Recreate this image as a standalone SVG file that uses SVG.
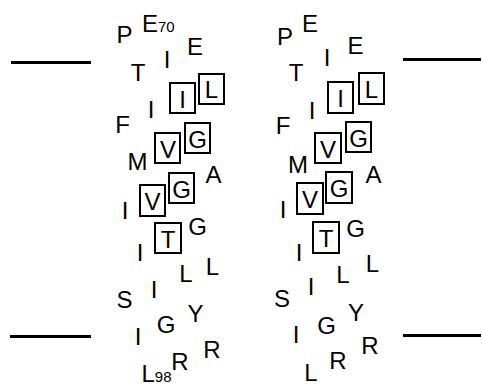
<svg xmlns="http://www.w3.org/2000/svg" width="482" height="388" viewBox="0 0 482 388">
<style>
text{font-family:"Liberation Sans",Arial,sans-serif;font-size:24px;fill:#000;text-anchor:middle}
text.s{text-anchor:start}
tspan.sub{font-size:15px}
rect.b{fill:none;stroke:#000;stroke-width:2}
line{stroke:#000;stroke-width:3}
</style>
<rect width="482" height="388" fill="#fff"/>
<g id="membrane">
<line x1="11" y1="62.5" x2="91" y2="62.5"/>
<line x1="403" y1="59.5" x2="481" y2="59.5"/>
<line x1="10" y1="336.5" x2="91" y2="336.5"/>
<line x1="403" y1="335.5" x2="481" y2="335.5"/>
</g>
<g id="helix-left">
<text x="124.5" y="43">P</text>
<text class="s" x="142" y="32">E<tspan class="sub">70</tspan></text>
<text x="195" y="55">E</text>
<text x="138" y="81">T</text>
<text x="167" y="68">I</text>
<g id="L-boxI1"><rect class="b" x="170" y="83" width="25" height="30"/><text x="182.5" y="107.5">I</text></g>
<g id="L-boxL"><rect class="b" x="199" y="74" width="25" height="30"/><text x="211.5" y="98">L</text></g>
<text x="151" y="118">I</text>
<text x="122.5" y="133">F</text>
<g id="L-boxV1"><rect class="b" x="155" y="133" width="25" height="30"/><text x="168" y="158">V</text></g>
<g id="L-boxG1"><rect class="b" x="185" y="123" width="25" height="30"/><text x="197.5" y="148">G</text></g>
<text x="137.5" y="170">M</text>
<text x="213.5" y="183">A</text>
<g id="L-boxG2"><rect class="b" x="169" y="173" width="25" height="30"/><text x="181.5" y="198">G</text></g>
<g id="L-boxV2"><rect class="b" x="140" y="185" width="25" height="31"/><text x="152.5" y="210">V</text></g>
<text x="125" y="219">I</text>
<g id="L-boxT"><rect class="b" x="155" y="223" width="26" height="30"/><text x="168" y="248">T</text></g>
<text x="197.5" y="235">G</text>
<text x="140" y="261">I</text>
<text x="186" y="282">L</text>
<text x="212.5" y="275">L</text>
<text x="154" y="298">I</text>
<text x="124.5" y="308">S</text>
<text x="195.5" y="322">Y</text>
<text x="166" y="333">G</text>
<text x="138" y="345">I</text>
<text x="212" y="358">R</text>
<text x="180" y="370">R</text>
<text class="s" x="141.5" y="382">L<tspan class="sub">98</tspan></text>
</g>
<g id="helix-right">
<text x="285" y="45">P</text>
<text x="310" y="32">E</text>
<text x="355.5" y="54">E</text>
<text x="327" y="66">I</text>
<text x="296" y="81">T</text>
<g id="R-boxL"><rect class="b" x="359" y="73" width="25" height="31"/><text x="371.5" y="97.5">L</text></g>
<g id="R-boxI1"><rect class="b" x="328" y="82" width="25" height="31"/><text x="340.5" y="107">I</text></g>
<text x="312" y="119">I</text>
<text x="283" y="134">F</text>
<g id="R-boxG1"><rect class="b" x="346" y="122" width="25" height="30"/><text x="358.5" y="147">G</text></g>
<g id="R-boxV1"><rect class="b" x="315" y="133" width="26" height="30"/><text x="328" y="158">V</text></g>
<text x="298" y="173">M</text>
<text x="373.5" y="183">A</text>
<g id="R-boxG2"><rect class="b" x="326" y="172" width="26" height="31"/><text x="339" y="197">G</text></g>
<g id="R-boxV2"><rect class="b" x="297" y="183" width="26" height="31"/><text x="310" y="208">V</text></g>
<text x="283" y="218">I</text>
<g id="R-boxT"><rect class="b" x="313" y="222" width="26" height="31"/><text x="326" y="247">T</text></g>
<text x="355.5" y="237">G</text>
<text x="299" y="261">I</text>
<text x="372.5" y="272">L</text>
<text x="343" y="283">L</text>
<text x="311" y="295">I</text>
<text x="282" y="307">S</text>
<text x="356" y="321">Y</text>
<text x="326.5" y="334">G</text>
<text x="296" y="343">I</text>
<text x="370" y="354">R</text>
<text x="338" y="369">R</text>
<text x="311" y="381">L</text>
</g>
</svg>
